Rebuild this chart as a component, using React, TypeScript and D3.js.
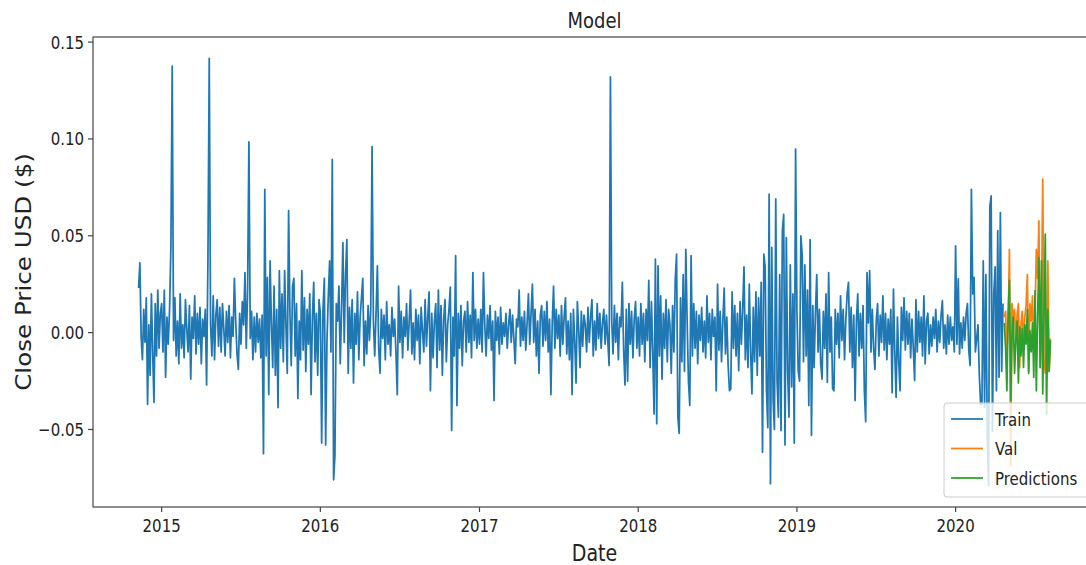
import React from 'react';
import * as d3 from 'd3';

const width = 1086;
const height = 565;
// the plot frame runs past the right edge of the picture, as in the source
const frame = { left: 93, right: 1096, top: 37, bottom: 507 };
const blue = '#1f77b4';
const orange = '#ff7f0e';
const green = '#2ca02c';
const ink = '#222';
const font = '"DejaVu Sans", sans-serif';
const lineWidth = 1.75;

// daily change of close price
const train2014 = [.023, .036, -.002, -.014, .012, -.005, .018, -.037, .004, -.022, .020, -.010, -.036, .015, -.012, .022, -.008, .010];

const train2015 = [
  .015, -.010, .022, -.023, .008, -.006, .012, .044, .1376, -.004,
  .018, -.012, .006, -.016, .020, -.008, .004, -.013, .017, .002,
  -.010, .014, -.024, .008, -.003, .019, -.011, .010, -.006, .013,
  -.016, .007, -.002, .012, -.027, .037, .1416, .004, -.012, .019,
  -.014, .009, .017, -.007, .013, -.010, .015, .002, -.012, .011,
  -.005, .014, -.013, .008, -.002, .028, .006, -.011, -.019, .010,
  -.006, .016, .004, .031, -.008, .022, .0985, -.003, .011, -.014,
  .008, -.010, .010, -.005, .007, -.013, .009, -.0625, .074, -.012,
  .0285, -.032, .037, .005, -.018, .024, -.022, .012, -.0387, .032,
  -.008, .020, -.015, .032, .003, -.021, .063, .010, -.017, .024,
  .028, -.012, .015, -.034, .006, -.014, .032, -.009, .018, -.020,
  .012, -.006, .020, -.032, .008, .026, -.015, .010, -.022, .017,
];

const train2016 = [
  .010, -.057, .012, .028, -.058, -.004, .019, .037, -.010, .0895,
  -.076, -.0634, .015, .006, .024, -.016, .012, .0465, -.005, .030,
  .048, -.021, .013, -.008, .017, -.026, .010, -.006, .021, -.014,
  .008, .018, .028, -.017, .006, -.011, .014, -.004, .011, .096,
  .006, -.012, .010, .0345, -.008, -.021, .012, -.003, .009, -.014,
  .016, -.006, .004, -.012, .013, -.002, .007, -.010, -.032, .024,
  -.005, .011, -.013, .008, -.002, .015, -.009, .006, .022, -.011,
  .005, -.014, .012, -.004, .009, -.016, .013, .001, -.010, .017,
  -.007, .008, .021, -.030, .010, -.013, .006, .015, -.018, .022,
  -.009, .014, -.022, .007, .017, -.015, .004, .012, .0235, -.0505,
  .008, -.012, .0397, -.0376, .010, -.008, .014, -.017, .006, .011,
  -.010, .016, -.005, .009, -.013, .031, -.004, .012, -.008, .007,
];

const train2017 = [
  -.006, .012, -.010, .031, .004, -.012, .009, -.003, .014, -.009,
  .006, -.035, .011, -.004, .008, -.011, .013, -.006, .005, -.002,
  .010, -.008, .004, .012, -.005, .009, -.003, -.016, .007, .003,
  .022, -.007, .008, -.004, .011, -.009, .005, .020, -.006, .010,
  .025, -.005, .012, -.012, .006, -.021, .009, .014, -.007, .011,
  -.004, .016, -.010, .007, -.032, .005, .024, -.008, .012, -.003,
  .009, -.012, .014, -.006, .008, .018, -.011, .006, -.014, .010,
  -.032, .012, -.004, -.026, .016, .002, -.018, .011, -.007, .009,
  .004, -.010, .013, -.005, .008, .017, -.012, .006, -.009, .015,
  -.003, .010, -.008, .005, .012, -.006, .009, -.004, -.017, .132,
  .006, -.011, .014, -.005, .010, -.014, .008, .003, .026, -.009,
  -.027, .012, -.025, .015, -.006, .011, -.013, .007, .016, -.008,
];

const train2018 = [
  .008, -.012, .015, -.006, .010, -.015, .012, -.004, .027, -.018,
  .016, -.010, -.042, .038, -.047, .0345, -.012, .019, -.024, .010,
  -.008, .017, -.015, .012, .004, -.021, .014, -.010, .027, .0405,
  -.0436, -.052, .018, -.015, .030, -.020, .043, .006, -.025, -.0376,
  .0397, -.012, .015, -.008, .011, -.016, .009, -.004, .013, -.010,
  .006, -.013, .019, -.005, .010, -.014, .012, -.002, .008, -.030,
  .025, -.009, .011, -.015, .006, .023, -.011, .008, -.017, -.030,
  -.029, .021, -.008, .014, -.012, .010, -.0196, .016, -.006, .012,
  .034, -.014, .009, -.018, .025, -.010, -.0316, .013, -.015, .021,
  -.022, .018, -.012, .026, -.0617, .0405, .034, -.030, -.049, .0715,
  -.078, .044, -.035, -.050, .069, -.025, -.0436, .030, -.0505, .0526,
  .061, -.058, .049, -.020, -.0436, .035, -.028, .020, -.057, .0947,
];

const train2019 = [
  .012, -.020, -.025, .050, .040, -.015, .035, -.012, .022, -.0376,
  .048, -.053, .014, -.018, .010, .030, -.010, .012, -.016, -.024,
  .011, -.008, .020, -.0256, .031, -.010, .008, -.029, -.030, .012,
  -.006, .010, -.013, .019, -.004, .012, -.014, .007, .020, .026,
  -.010, .013, -.018, .009, -.035, .006, .020, -.012, .010, -.008,
  .014, -.030, -.046, .031, .005, .032, -.010, .012, -.008, -.019,
  .006, .015, -.012, .009, -.005, .019, -.009, .010, -.014, .007,
  -.006, .012, -.031, .0225, -.010, -.0333, .008, -.015, -.030, .013,
  -.004, .018, -.009, .011, -.006, .010, -.013, .007, -.008, -.0247,
  .017, -.010, .011, -.005, .008, -.012, .019, -.016, .006, .010,
  -.011, .004, -.007, .008, -.003, .012, -.010, .006, -.005, .009,
  .0165, -.008, .004, -.011, .009, -.006, .008, -.004, .003, -.010,
];

const train2020 = [
  .0448, -.006, .0277, -.011, .005, -.008, .008, -.004, .010, .015,
  -.009, -.017, .074, .020, .0285, -.010, -.003, .004, -.022, -.037,
  -.037, .037, -.0385, .030, -.051, -.079, .065, .0706, -.051, .020,
  .034, -.030, .0526, -.023, .062, -.020, .015,
];

const trainYears = [train2014, train2015, train2016, train2017, train2018, train2019, train2020];
const trainBreaks = ['2014-11-09', '2015-01-01', '2016-01-01', '2017-01-01', '2018-01-01', '2019-01-01', '2020-01-01', '2020-04-22'];

const valRange = ['2020-04-22', '2020-08-06'];
const val = [
  .008, .011, -.010, .004, .043, -.069, .015, .006, .012, -.005,
  .009, .015, -.018, .004, .011, -.006, .008, .014, .030, -.020,
  .015, .006, .019, -.005, .010, .043, .028, .0577, -.018, .012,
  .0792, -.0144, -.021, -.005, .037, -.020, -.003,
];
const predictions = [
  .005, -.008, -.030, .010, .027, -.035, -.002, .008, -.021, -.004,
  .006, -.026, .003, -.012, .002, -.018, .004, -.006, .012, -.021,
  .001, -.010, .005, -.023, .0216, -.030, .008, .0388, -.018, .037,
  -.0316, .010, .0508, -.042, .012, -.020, -.004,
];

const seriesNames = ['Train', 'Val', 'Predictions'];
const seriesColors = [blue, orange, green];

type Point = { date: Date; value: number };
const parse = d3.timeParse('%Y-%m-%d');

// spread a run of trading-day values across its date span
function spread(values: number[], from: string, to: string, inclusive: boolean): Point[] {
  const a = parse(from)!.getTime();
  const b = parse(to)!.getTime();
  const n = inclusive ? values.length - 1 : values.length;
  return values.map((value, i) => ({ date: new Date(a + (b - a) * i / n), value }));
}

const trainPts = trainYears.flatMap((vals, k) => spread(vals, trainBreaks[k], trainBreaks[k + 1], false));
const valPts = spread(val, valRange[0], valRange[1], true);
const predPts = spread(predictions, valRange[0], valRange[1], true);
const allPts = [...trainPts, ...valPts, ...predPts];

// matplotlib-like 5% margins around the data
const [t0, t1] = d3.extent(allPts, d => d.date.getTime()) as [number, number];
const tPad = (t1 - t0) * 0.05;
const xScale = d3.scaleTime()
  .domain([new Date(t0 - tPad), new Date(t1 + tPad)])
  .range([frame.left, frame.right]);

const [v0, v1] = d3.extent(allPts, d => d.value) as [number, number];
const vPad = (v1 - v0) * 0.05;
const yScale = d3.scaleLinear()
  .domain([v0 - vPad, v1 + vPad])
  .range([frame.bottom, frame.top]);

const lineGenerator = d3.line<Point>()
  .x(d => xScale(d.date))
  .y(d => yScale(d.value));

const yFormat = d3.format('.2f');
const xTicks = xScale.ticks(d3.timeYear.every(1)!);
const yTicks = yScale.ticks(5);

// the source picture is stretched a little in height, text included
function Label(props: { x: number; y: number; size: number; anchor?: string; rotate?: boolean; children: React.ReactNode }) {
  const { x, y, size, anchor = 'middle', rotate = false, children } = props;
  return (
    <text
      transform={`translate(${x},${y}) scale(1,1.2)${rotate ? ' rotate(-90)' : ''}`}
      fontSize={size}
      fontFamily={font}
      textAnchor={anchor}
      fill={ink}
    >
      {children}
    </text>
  );
}

export default function App() {
  const midX = (frame.left + frame.right) / 2;
  const midY = (frame.top + frame.bottom) / 2;
  const legend = { x: 944, y: 403, w: 145, h: 94 };

  return (
    <svg
      width={width}
      height={height}
      style={{ position: 'absolute', left: 0, top: 0, background: '#fff', overflow: 'hidden' }}
    >
      <Label x={midX} y={28} size={18}>Model</Label>

      <path d={lineGenerator(trainPts) ?? ''} fill="none" stroke={blue} strokeWidth={lineWidth} strokeLinejoin="round" />
      <path d={lineGenerator(valPts) ?? ''} fill="none" stroke={orange} strokeWidth={lineWidth} strokeLinejoin="round" />
      <path d={lineGenerator(predPts) ?? ''} fill="none" stroke={green} strokeWidth={lineWidth} strokeLinejoin="round" />

      <rect
        x={frame.left}
        y={frame.top}
        width={frame.right - frame.left}
        height={frame.bottom - frame.top}
        fill="none"
        stroke="#444"
        strokeWidth={1.2}
      />

      <g>
        {xTicks.map(t => (
          <g key={t.getTime()}>
            <line x1={xScale(t)} x2={xScale(t)} y1={frame.bottom} y2={frame.bottom + 5} stroke="#444" strokeWidth={1.2} />
            <Label x={xScale(t)} y={532} size={15}>{d3.timeFormat('%Y')(t)}</Label>
          </g>
        ))}
      </g>
      <g>
        {yTicks.map(v => (
          <g key={v}>
            <line x1={frame.left - 5} x2={frame.left} y1={yScale(v)} y2={yScale(v)} stroke="#444" strokeWidth={1.2} />
            <Label x={frame.left - 9} y={yScale(v) + 6.5} size={15} anchor="end">{yFormat(v)}</Label>
          </g>
        ))}
      </g>

      <Label x={midX} y={561} size={19}>Date</Label>
      <Label x={31} y={midY} size={20.5} rotate>Close Price USD ($)</Label>

      <g>
        <rect
          x={legend.x}
          y={legend.y}
          width={legend.w}
          height={legend.h}
          rx={3}
          fill="#fff"
          fillOpacity={0.8}
          stroke="#ccc"
        />
        {seriesNames.map((name, i) => {
          const ly = 419 + i * 29.5;
          return (
            <g key={name}>
              <line x1={951} x2={983} y1={ly} y2={ly} stroke={seriesColors[i]} strokeWidth={lineWidth} />
              <Label x={995} y={ly + 6.5} size={15} anchor="start">{name}</Label>
            </g>
          );
        })}
      </g>
    </svg>
  );
}
